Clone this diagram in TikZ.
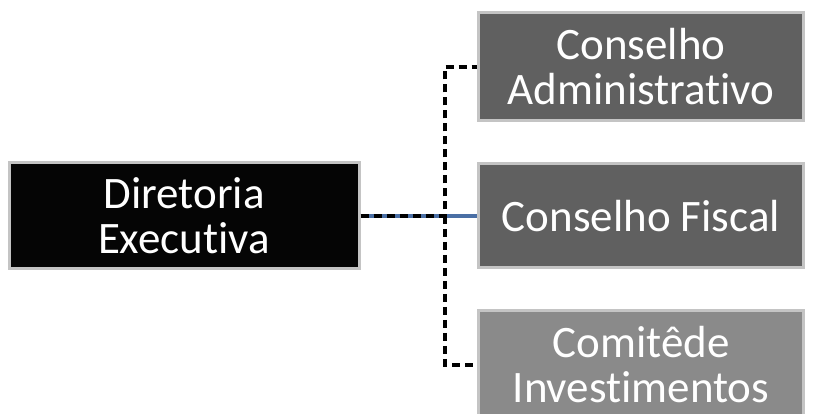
\documentclass[tikz,border=0pt]{standalone}
\usepackage{fontspec}
\setmainfont{Carlito}[Ligatures=NoCommon]
\definecolor{boxdark}{HTML}{050505}
\definecolor{boxmid}{HTML}{606060}
\definecolor{boxlight}{HTML}{8A8A8A}
\definecolor{bevel}{HTML}{C4C4C4}
\definecolor{linkblue}{HTML}{4A6FA5}
\tikzset{
  orgbox/.style={draw=bevel, line width=3pt, text=white, align=center,
    font=\fontsize{45}{45}\selectfont, inner sep=0pt},
  dashlink/.style={draw=black, line width=3.5pt, dash pattern=on 8pt off 5pt},
  bluelink/.style={draw=linkblue, line width=4.5pt}
}
\begin{document}
\begin{tikzpicture}[x=1pt,y=-1pt]
    \useasboundingbox (0,0) rectangle (820,414);

    % branching coordinate
    \coordinate (b1) at (445,216);

    % Boxes
    \node[orgbox, fill=boxdark, minimum width=350pt, minimum height=106pt] (dir) at (184,216) {Diretoria\\Executiva};
    \node[orgbox, fill=boxmid, minimum width=325pt, minimum height=108pt] (adm) at (641,67) {Conselho\\Administrativo};
    \node[orgbox, fill=boxmid, minimum width=325pt, minimum height=104pt] (fis) at (641,216) {Conselho Fiscal};
    \node[orgbox, fill=boxlight, minimum width=325pt, minimum height=108pt] (com) at (641,365) {Comitêde\\Investimentos};

    % Lines
    \draw[bluelink] (dir) -- (fis);
    \draw[dashlink] (dir.east) -- (b1) |- (adm.west);
    \draw[dashlink] (b1) |- (com.west);
\end{tikzpicture}
\end{document}
